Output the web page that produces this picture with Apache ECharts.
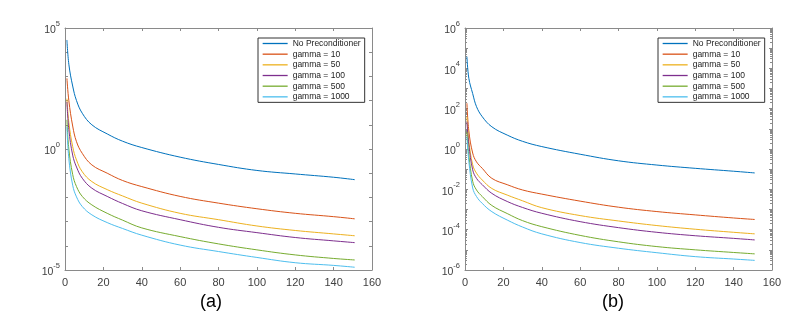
<!DOCTYPE html>
<html>
<head>
<meta charset="utf-8">
<script src="https://cdn.jsdelivr.net/npm/echarts@6/dist/echarts.min.js"></script>
<style>
html,body{margin:0;padding:0;background:#fff;}
#chart{width:803px;height:319px;}
</style>
</head>
<body>
<div id="chart"></div>
<script>
// Iteration index (x values)
const iterations = [1, 2, 4, 6, 9, 14, 22, 30, 40, 60, 80, 100, 120, 140, 151];
const seriesNames = ['No Preconditioner', 'gamma = 10', 'gamma = 50', 'gamma = 100', 'gamma = 500', 'gamma = 1000'];
const panelTitles = ['(a)', '(b)'];

// Panel (a) values
const a_noPre  = [3.2e4, 3.2e3, 4.0e2, 1.0e2, 30, 10, 4.2, 2.1, 1.15, 0.46, 0.23, 0.13, 0.093, 0.068, 0.054];
const a_g10    = [830, 100, 8.9, 2.0, 0.66, 0.22, 0.1, 0.05, 0.028, 0.011, 5.8e-3, 3.4e-3, 2.2e-3, 1.6e-3, 1.3e-3];
const a_g50    = [120, 12.6, 1.26, 0.35, 0.115, 0.045, 0.021, 0.0115, 5.8e-3, 2.2e-3, 1.2e-3, 6.6e-4, 4.3e-4, 3.1e-4, 2.6e-4];
const a_g100   = [89, 6.3, 0.56, 0.18, 0.062, 0.024, 0.011, 5.6e-3, 2.8e-3, 1.2e-3, 5.8e-4, 3.5e-4, 2.2e-4, 1.6e-4, 1.35e-4];
const a_g500   = [16, 1, 0.089, 0.028, 0.011, 4.9e-3, 2.2e-3, 1.15e-3, 5.5e-4, 2.4e-4, 1.2e-4, 6.8e-5, 4.2e-5, 3.0e-5, 2.6e-5];
const a_g1000  = [8.3, 0.4, 0.032, 0.0105, 4.2e-3, 1.9e-3, 9.1e-4, 5.2e-4, 2.75e-4, 1.07e-4, 5.8e-5, 3.3e-5, 2.0e-5, 1.55e-5, 1.3e-5];

// Panel (b) values
const b_noPre  = [3.8e4, 3.2e3, 560, 126, 40, 12.6, 4.9, 2.4, 1.32, 0.55, 0.26, 0.16, 0.11, 0.079, 0.065];
const b_g10    = [186, 7.9, 0.63, 0.23, 0.11, 0.035, 0.017, 9.3e-3, 5.8e-3, 2.6e-3, 1.3e-3, 7.9e-4, 5.4e-4, 3.8e-4, 3.2e-4];
const b_g50    = [40, 2.5, 0.166, 0.063, 0.029, 0.011, 5.2e-3, 2.7e-3, 1.23e-3, 5.0e-4, 2.7e-4, 1.6e-4, 1.05e-4, 7.4e-5, 6.2e-5];
const b_g100   = [23, 1.6, 0.093, 0.035, 0.017, 6.3e-3, 2.5e-3, 1.26e-3, 6.5e-4, 2.5e-4, 1.26e-4, 7.4e-5, 5.0e-5, 3.7e-5, 3.1e-5];
const b_g500   = [7.2, 0.5, 0.025, 9.3e-3, 4.4e-3, 1.58e-3, 6.3e-4, 2.8e-4, 1.41e-4, 5.2e-5, 2.5e-5, 1.45e-5, 1.0e-5, 7.4e-6, 6.3e-6];
const b_g1000  = [4.1, 0.25, 0.0117, 4.4e-3, 2.0e-3, 7.8e-4, 3.0e-4, 1.35e-4, 6.2e-5, 2.3e-5, 1.2e-5, 7.2e-6, 4.6e-6, 3.5e-6, 3.0e-6];

// Axis ranges and ticks
const xTicks = [0, 20, 40, 60, 80, 100, 120, 140, 160];
const aYRange = [1e-5, 1e5];
const bYRange = [1e-6, 1e6];
const aLabelEvery = 5;
const bLabelEvery = 2;

const colors = ['#0072BD', '#D95319', '#EDB120', '#7E2F8E', '#77AC30', '#4DBEEE'];
const panelA = [a_noPre, a_g10, a_g50, a_g100, a_g500, a_g1000];
const panelB = [b_noPre, b_g10, b_g50, b_g100, b_g500, b_g1000];

const axisColor = '#8a8a8a';
const labelColor = '#404040';
const FONT = 'Liberation Sans, Arial, sans-serif';

function xAxes(gi) {
  const base = {
    gridIndex: gi, type: 'value', min: xTicks[0], max: xTicks[xTicks.length - 1], interval: xTicks[1] - xTicks[0],
    splitLine: {show: false},
    axisLine: {show: true, onZero: false, lineStyle: {color: axisColor, width: 1}},
    axisTick: {show: true, inside: true, length: 3, lineStyle: {color: axisColor}}
  };
  return [
    Object.assign({}, base, {position: 'bottom',
      axisLabel: {color: labelColor, fontSize: 11, fontFamily: FONT, margin: 7}}),
    Object.assign({}, base, {position: 'top', axisLabel: {show: false}})
  ];
}

function yAxes(gi, range, every, minor) {
  const base = {
    gridIndex: gi, type: 'log', logBase: 10, min: range[0], max: range[1], interval: 1,
    splitLine: {show: false},
    axisLine: {show: true, onZero: false, lineStyle: {color: axisColor, width: 1}},
    axisTick: {show: true, inside: true, length: 3, lineStyle: {color: axisColor}},
    minorTick: minor ? {show: true, splitNumber: 9, length: 2, lineStyle: {color: axisColor}} : {show: false}
  };
  return [
    Object.assign({}, base, {position: 'left',
      axisLabel: {
        color: labelColor, fontFamily: FONT, margin: 5, showMinLabel: true, showMaxLabel: true,
        formatter: function (v) {
          const e = Math.round(Math.log10(v));
          if (e % every !== 0) return '';
          return '{b|10}{s|' + e + '}';
        },
        rich: {
          b: {fontSize: 10.5, color: labelColor, fontFamily: FONT, lineHeight: 16, verticalAlign: 'bottom'},
          s: {fontSize: 7.5, color: labelColor, fontFamily: FONT, lineHeight: 16, verticalAlign: 'top'}
        }
      }}),
    Object.assign({}, base, {position: 'right', axisLabel: {show: false}})
  ];
}

const series = [];
[panelA, panelB].forEach(function (panel, p) {
  panel.forEach(function (vals, i) {
    series.push({
      name: seriesNames[i], type: 'line',
      xAxisIndex: p * 2, yAxisIndex: p * 2,
      data: iterations.map(function (x, k) { return [x, vals[k]]; }),
      symbol: 'none', smooth: 0.4,
      lineStyle: {width: 1, color: colors[i]}, itemStyle: {color: colors[i]},
      animation: false
    });
  });
});

function legend(left, top) {
  return {
    data: seriesNames, orient: 'vertical', left: left, top: top,
    backgroundColor: '#fff', borderColor: '#333', borderWidth: 1,
    padding: [1, 4, 1, 4], itemGap: 1.67, itemWidth: 25, itemHeight: 10,
    itemStyle: {opacity: 0},
    lineStyle: {width: 1.3},
    textStyle: {fontSize: 8.5, fontFamily: FONT, color: '#222'},
    selectedMode: false
  };
}

const chart = echarts.init(document.getElementById('chart'), null, {renderer: 'canvas'});
chart.setOption({
  animation: false,
  backgroundColor: '#fff',
  color: colors,
  grid: [
    {left: 65, top: 28, width: 307, height: 242},
    {left: 465, top: 28, width: 307, height: 242}
  ],
  xAxis: xAxes(0).concat(xAxes(1)),
  yAxis: yAxes(0, aYRange, aLabelEvery, false).concat(yAxes(1, bYRange, bLabelEvery, true)),
  legend: [legend(258, 38), legend(658, 38)],
  series: series,
  graphic: [
    {type: 'text', x: 211, y: 302, style: {text: panelTitles[0], font: '18px ' + FONT, fill: '#000', textAlign: 'center', textVerticalAlign: 'middle'}},
    {type: 'text', x: 613, y: 302, style: {text: panelTitles[1], font: '18px ' + FONT, fill: '#000', textAlign: 'center', textVerticalAlign: 'middle'}}
  ]
});
</script>
</body>
</html>
